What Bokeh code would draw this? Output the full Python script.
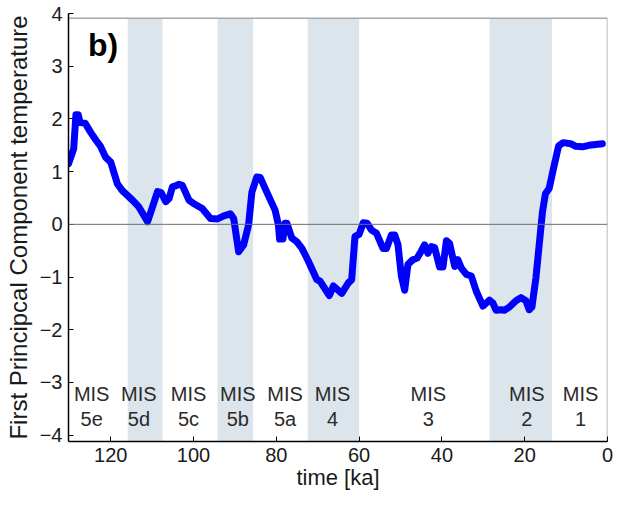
from bokeh.plotting import figure
from bokeh.models import Range1d, Span, Label, FixedTicker
from bokeh.core.properties import value
from bokeh.embed import file_html
from bokeh.resources import INLINE

# ---- data ----
time_ka = [130.2, 128.95, 128.4, 127.85, 127.4, 126.2, 124.8, 123.6, 122.55, 121.2,
           120.0, 118.4, 117.2, 114.75, 113.2, 111.1, 109.9, 108.7, 107.8, 106.7,
           105.9, 105.1, 104.3, 103.5, 102.7, 101.1, 99.9, 97.9, 95.9, 94.3,
           92.7, 91.1, 90.3, 89.1, 87.9, 86.7, 85.9, 84.7, 83.9, 82.3,
           80.3, 79.5, 79.2, 78.4, 77.9, 77.45, 76.25, 75.05, 73.85, 72.25,
           70.2, 69.4, 67.2, 66.2, 64.2, 62.6, 61.8, 61.0, 60.0, 59.0,
           58.05, 57.0, 55.8, 54.2, 53.4, 52.2, 51.4, 50.6, 49.8, 49.0,
           48.2, 47.0, 46.0, 45.0, 44.2, 43.4, 42.55, 41.75, 40.55, 39.75,
           38.9, 38.15, 36.9, 36.15, 35.3, 34.1, 32.9, 31.7, 30.1, 28.5,
           27.7, 26.9, 25.7, 24.9, 23.7, 22.1, 20.9, 19.7, 18.9, 18.25,
           17.3, 16.5, 15.7, 15.0, 14.1, 12.9, 11.8, 10.7, 8.9, 7.65,
           6.05, 4.5, 1.25]
pc1 = [1.15, 1.43, 2.08, 2.08, 1.93, 1.92, 1.74, 1.60, 1.49, 1.27,
       1.18, 0.77, 0.64, 0.46, 0.33, 0.05, 0.33, 0.62, 0.60, 0.43,
       0.49, 0.71, 0.73, 0.76, 0.74, 0.46, 0.39, 0.30, 0.11, 0.10,
       0.16, 0.20, 0.11, -0.52, -0.39, -0.01, 0.61, 0.90, 0.89, 0.61,
       0.27, -0.01, -0.28, -0.28, 0.02, 0.02, -0.26, -0.33, -0.45, -0.70,
       -1.05, -1.08, -1.35, -1.17, -1.31, -1.11, -1.05, -0.23, -0.19, 0.03,
       0.02, -0.11, -0.17, -0.46, -0.46, -0.20, -0.20, -0.39, -0.98, -1.25,
       -0.76, -0.67, -0.64, -0.51, -0.39, -0.55, -0.42, -0.44, -0.81, -0.81,
       -0.31, -0.36, -0.80, -0.67, -0.83, -0.95, -0.98, -1.27, -1.55, -1.44,
       -1.49, -1.63, -1.62, -1.63, -1.57, -1.45, -1.39, -1.45, -1.62, -1.57,
       -1.02, -0.39, 0.24, 0.58, 0.68, 1.11, 1.49, 1.55, 1.53, 1.48,
       1.47, 1.50, 1.53]

band_start = [115.9, 94.2, 72.4, 28.5]
band_end = [107.5, 85.6, 60.0, 13.4]

stage_x = [124.6, 113.2, 101.2, 89.3, 77.9, 66.4, 43.3, 19.5, 6.5]
stage_names = ["5e", "5d", "5c", "5b", "5a", "4", "3", "2", "1"]

x_ticks = [120, 100, 80, 60, 40, 20, 0]
y_ticks = [4, 3, 2, 1, 0, -1, -2, -3, -4]

# ---- layout constants ----
X_LEFT, X_RIGHT = 130.2, 0.0
Y_BOT, Y_TOP = -4.12, 4.0
BOX_TOP = 3.91
FONT = "Liberation Sans"
TXT = "#1a1a1a"

p = figure(width=613, height=492,
           x_range=Range1d(X_LEFT, X_RIGHT), y_range=Range1d(Y_BOT, Y_TOP),
           output_backend="svg", toolbar_location=None,
           min_border_left=68, min_border_right=6,
           min_border_top=13, min_border_bottom=51)

p.grid.visible = False
p.outline_line_color = None
p.background_fill_color = "white"
p.border_fill_color = "white"

# shaded stages
p.quad(left=band_start, right=band_end, bottom=Y_BOT, top=BOX_TOP,
       fill_color="#dce4ec", line_color=None)

# frame top / right (gray)
p.segment(x0=[X_LEFT, X_RIGHT], y0=[BOX_TOP, BOX_TOP],
          x1=[X_RIGHT, X_RIGHT], y1=[BOX_TOP, Y_BOT],
          line_color="#a8a8a8", line_width=1.5)

# zero line
p.add_layout(Span(location=0, dimension="width", line_color="#6e6e6e", line_width=1))

# the series
p.line(time_ka, pc1, line_width=7, line_color="#0000ff", line_join="round", line_cap="round")

# stage labels
p.text(x=stage_x, y=[-3.21] * len(stage_x), text=["MIS"] * len(stage_x),
       text_align="center", text_baseline="alphabetic",
       text_font=value(FONT), text_font_size="20px", text_color="#2a2a2a")
p.text(x=stage_x, y=[-3.70] * len(stage_x), text=stage_names,
       text_align="center", text_baseline="alphabetic",
       text_font=value(FONT), text_font_size="20px", text_color="#2a2a2a")

p.add_layout(Label(x=125.5, y=3.40, text="b)", text_font=FONT,
                   text_font_size="32px", text_font_style="bold",
                   text_baseline="alphabetic", text_color="black"))

# axes
p.xaxis.ticker = FixedTicker(ticks=x_ticks)
p.yaxis.ticker = FixedTicker(ticks=y_ticks)
p.xaxis.axis_label = "time [ka]"
p.yaxis.axis_label = "First Principcal Component temperature"
for ax in (p.xaxis, p.yaxis):
    ax.axis_line_color = "black"
    ax.axis_line_width = 1.5
    ax.major_tick_in = 5
    ax.major_tick_out = 0
    ax.minor_tick_line_color = None
    ax.major_tick_line_color = "black"
    ax.major_label_text_font = FONT
    ax.major_label_text_font_size = "20px"
    ax.major_label_text_color = TXT
    ax.axis_label_text_font = FONT
    ax.axis_label_text_font_style = "normal"
    ax.axis_label_text_color = TXT
p.yaxis.axis_label_text_font_size = "24px"
p.xaxis.axis_label_text_font_size = "22px"
p.yaxis.major_label_standoff = 6
p.xaxis.major_label_standoff = 6
p.yaxis.axis_label_standoff = 5
p.xaxis.axis_label_standoff = 0

open("out.html", "w").write(file_html(p, INLINE))
